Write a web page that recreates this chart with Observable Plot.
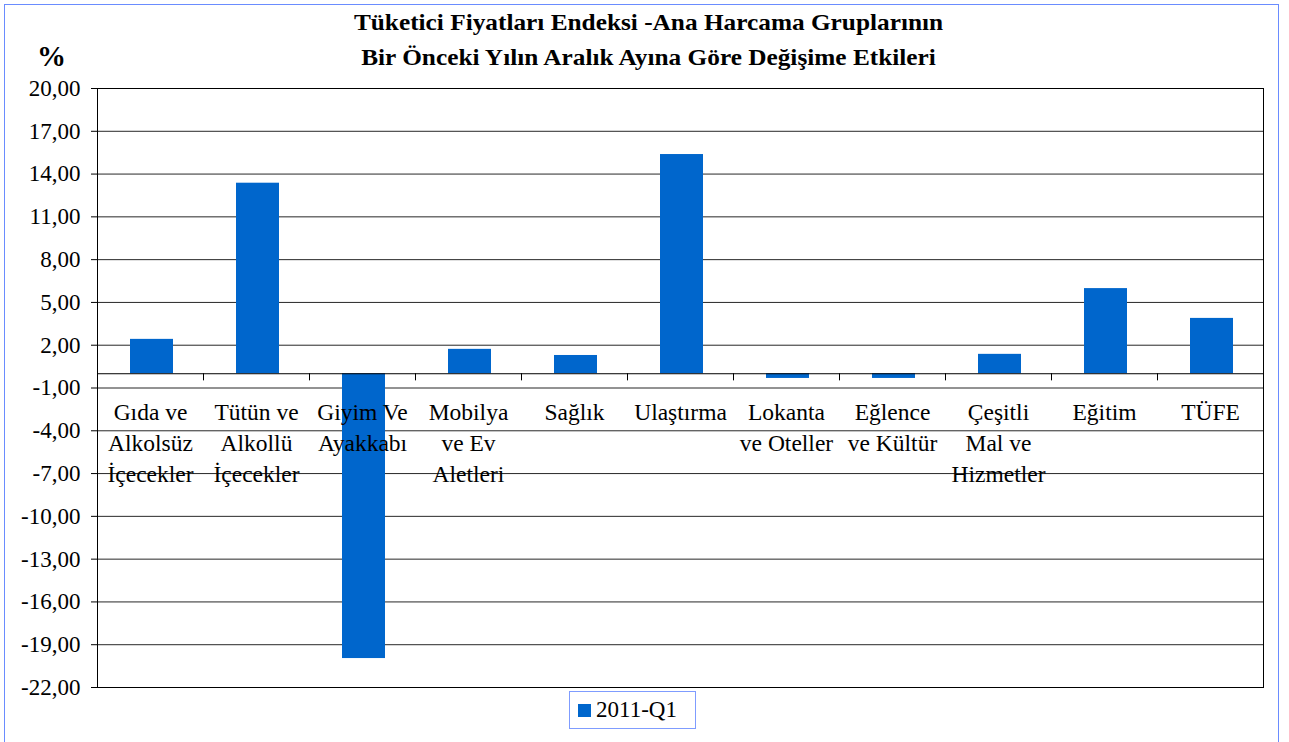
<!DOCTYPE html>
<html>
<head>
<meta charset="utf-8">
<script src="https://cdn.jsdelivr.net/npm/d3@7"></script>
<script src="https://cdn.jsdelivr.net/npm/@observablehq/plot@0.6"></script>
<style>
  html, body { margin: 0; padding: 0; background: #fff; font-family: 'Liberation Serif', serif; }
  #page { position: relative; width: 1289px; height: 742px; overflow: hidden; color: #000; }
  #border { position: absolute; left: 4px; top: 4px; width: 1275px; height: 760px; border: 1.5px solid #6a8cff; box-sizing: border-box; }
  #title { position: absolute; left: 0; top: 5px; width: 1297px; text-align: center; font-family: 'Liberation Serif', serif; font-weight: bold; font-size: 23px; line-height: 35px; transform: scaleX(1.1); transform-origin: 648.5px 0; }
  #pct { position: absolute; left: 37px; top: 40px; font-family: 'Liberation Serif', serif; font-weight: bold; font-size: 29px; }
  #chart { position: absolute; left: 0; top: 70px; }
  #legend { position: absolute; left: 569px; top: 691px; width: 127px; height: 38px; border: 1px solid #7f9cff; box-sizing: border-box; display: flex; align-items: center; padding-left: 8px; font-family: 'Liberation Serif', serif; font-size: 23px; }
  #legend .sw { width: 13px; height: 13px; background: #0066CC; margin-right: 5px; }
</style>
</head>
<body>
<div id="page">
  <div id="border"></div>
  <div id="title">Tüketici Fiyatları Endeksi -Ana Harcama Gruplarının<br>Bir Önceki Yılın Aralık Ayına Göre Değişime Etkileri</div>
  <div id="pct">%</div>
  <div id="chart"></div>
  <div id="legend"><div class="sw"></div><span id="legend-label"></span></div>
</div>
<script>
const categories = ["Gıda ve\nAlkolsüz\nİçecekler", "Tütün ve\nAlkollü\nİçecekler", "Giyim Ve\nAyakkabı", "Mobilya\nve Ev\nAletleri", "Sağlık", "Ulaştırma", "Lokanta\nve Oteller", "Eğlence\nve Kültür", "Çeşitli\nMal ve\nHizmetler", "Eğitim", "TÜFE"];
const values2011Q1 = [2.41, 13.36, -19.97, 1.71, 1.28, 15.37, -0.33, -0.33, 1.36, 5.97, 3.88];
const seriesName = "2011-Q1";
const yTicks = [20, 17, 14, 11, 8, 5, 2, -1, -4, -7, -10, -13, -16, -19, -22];

document.getElementById("legend-label").textContent = seriesName;

const data = categories.map((c, i) => ({cat: c, value: values2011Q1[i]}));

const W = 1289, H = 621, ML = 97, MR = 26, MT = 18, MB = 4;
const bw = (W - ML - MR) / categories.length;
const barW = 43;
const inset = (bw - barW) / 2;
const fmt = d => d.toFixed(2).replace(".", ",");

const chart = Plot.plot({
  width: W,
  height: H,
  marginLeft: ML,
  marginRight: MR,
  marginTop: MT,
  marginBottom: MB,
  style: {fontFamily: "Liberation Serif", fontSize: "23px", color: "#000", background: "transparent", overflow: "visible"},
  x: {domain: categories, padding: 0, axis: null},
  y: {domain: [-22, 20], axis: null},
  marks: [
    Plot.gridY(yTicks, {stroke: "#000", strokeOpacity: 0.85, strokeWidth: 1}),
    Plot.barY(data, {x: "cat", y: "value", fill: "#0066CC", insetLeft: inset, insetRight: inset, dx: 1.5}),
    Plot.ruleY([0], {stroke: "#000", strokeWidth: 1}),
    Plot.ruleX(categories.slice(1), {x: d => d, y1: 0, y2: -0.5, dx: -bw / 2, stroke: "#000"}),
    Plot.text(data, {x: "cat", y: 0, text: "cat", dy: 24, lineAnchor: "top", lineHeight: 1.32, fontSize: 23.5, fill: "#000"}),
    Plot.axisY({ticks: yTicks, tickFormat: fmt, tickSize: 6, tickPadding: 11, label: null, fontSize: 23}),
    Plot.frame({stroke: "#000"})
  ]
});
document.getElementById("chart").appendChild(chart);
</script>
</body>
</html>
